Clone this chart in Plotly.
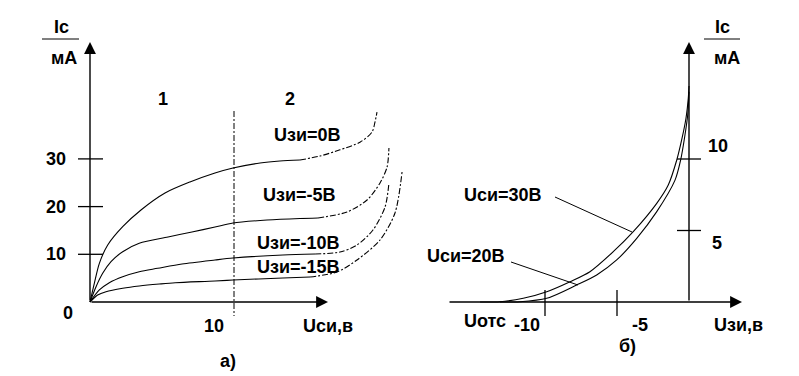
import plotly.graph_objects as go

W, H = 799, 376
FONT = "Liberation Sans, Arial, sans-serif"

# ---------------- Left panel (a): output characteristics, Ic (mA) vs Uси (V)
# Uзи = 0 В
u0_x = [0, 0.30, 0.65, 1.23, 2.27, 3.54, 5.21, 6.94, 8.68, 9.93, 11.81, 13.19, 14.58]
u0_y = [0, 3.92, 8.11, 11.95, 15.79, 19.29, 22.85, 25.16, 27.04, 28.09, 29.14, 29.56, 29.77]
u0_dx = [14.58, 15.97, 17.36, 18.75, 19.58, 19.79, 19.93]
u0_dy = [29.77, 30.6, 31.9, 33.5, 35.6, 37.7, 39.8]
# Uзи = -5 В
u5_x = [0, 0.42, 0.88, 1.46, 2.27, 3.42, 5.42, 7.08, 8.68, 9.93, 12.29, 14.58, 15.83]
u5_y = [0, 3.21, 6.02, 8.45, 10.55, 12.31, 13.63, 14.68, 15.72, 16.56, 17.19, 17.51, 17.61]
u5_dx = [15.83, 17.85, 19.24, 20.14, 20.63, 20.76]
u5_dy = [17.61, 18.87, 21.38, 24.95, 28.3, 32.3]
# Uзи = -10 В
u10_x = [0, 0.65, 1.34, 2.27, 3.42, 4.70, 6.39, 8.68, 9.93, 13.4, 15.63]
u10_y = [0, 2.52, 4.05, 5.30, 6.35, 7.06, 7.97, 8.81, 9.22, 9.85, 10.06]
u10_dx = [15.63, 17.36, 18.54, 19.65, 20.49, 20.76]
u10_dy = [10.06, 10.48, 11.95, 15.09, 19.92, 24.95]
# Uзи = -15 В
u15_x = [0, 0.53, 1.11, 2.27, 3.42, 4.81, 5.92, 8.68, 9.93, 13.4, 15.28]
u15_y = [0, 1.47, 2.16, 2.87, 3.35, 3.77, 4.05, 4.40, 4.61, 5.03, 5.24]
u15_dx = [15.28, 17.15, 18.54, 20.14, 21.18, 21.67]
u15_dy = [5.24, 6.29, 8.81, 13.0, 18.66, 27.25]

left_yticks = [10, 20, 30]
left_xticks = [10]
left_curve_labels = ["Uзи=0В", "Uзи=-5В", "Uзи=-10В", "Uзи=-15В"]

# ---------------- Right panel (б): transfer characteristics, Ic (mA) vs Uзи (V)
c30_x = [-14.51, -13.13, -11.51, -9.88, -8.26, -6.88, -5.26, -3.87, -2.24, -1.44,
         -0.85, -0.51, -0.21, -0.05, 0]
c30_y = [0, 0.02, 0.26, 0.72, 1.42, 2.12, 3.52, 4.92, 6.90, 8.18,
         9.93, 11.33, 12.85, 14.24, 15.1]
c20_x = [-13.13, -11.74, -9.88, -7.80, -6.41, -5.02, -3.63, -2.25, -0.97, -0.58,
         -0.28, -0.09, 0]
c20_y = [0, 0.02, 0.26, 1.19, 1.89, 2.94, 4.45, 6.30, 8.52, 9.93,
         11.68, 13.08, 14.7]

right_yticks = [5, 10]
right_xticks = [-10, -5]

# ---------------- pixel geometry (layout only)
L_X0, L_Y0, L_SX, L_SY = 90, 302, 14.4, 4.77      # left origin px, px per V, px per mA
R_X0, R_Y0, R_SX, R_SY = 689, 302, 14.4, 14.3

def px(xp):
    return xp / W

def py(yp):
    return 1 - yp / H

fig = go.Figure()

def line(x, y, xa, ya, dash="solid", w=1.1):
    fig.add_trace(go.Scatter(x=x, y=y, mode="lines", xaxis=xa, yaxis=ya,
                             line=dict(color="black", width=w, dash=dash,
                                       shape="spline", smoothing=0.8),
                             hoverinfo="skip", showlegend=False))

DD = "6px,2px,2px,2px"
for sx, sy, dx, dy in [(u0_x, u0_y, u0_dx, u0_dy), (u5_x, u5_y, u5_dx, u5_dy),
                       (u10_x, u10_y, u10_dx, u10_dy), (u15_x, u15_y, u15_dx, u15_dy)]:
    line(sx, sy, "x", "y")
    line(dx, dy, "x", "y", dash=DD)

line(c30_x, c30_y, "x2", "y2")
line(c20_x, c20_y, "x2", "y2")

shapes = []
annotations = []

def seg(x0, y0, x1, y1, xr, yr, w=1.3, dash="solid"):
    shapes.append(dict(type="line", x0=x0, y0=y0, x1=x1, y1=y1, xref=xr, yref=yr,
                       line=dict(color="black", width=w, dash=dash)))

def arrow(xt, yt, xs, ys, xr, yr):
    annotations.append(dict(x=xt, y=yt, ax=xs, ay=ys, xref=xr, yref=yr,
                            axref=xr, ayref=yr, text="", showarrow=True,
                            arrowhead=2, arrowsize=1.7, arrowwidth=1.4,
                            arrowcolor="black", standoff=0))

def text(t, xp, yp, size=18):
    annotations.append(dict(text="<b>" + t + "</b>", x=px(xp), y=py(yp),
                            xref="paper", yref="paper", showarrow=False,
                            xanchor="center", yanchor="middle",
                            font=dict(family=FONT, size=size, color="black")))

# left axes
arrow(0, (L_Y0 - 42) / L_SY, 0, 0, "x", "y")
arrow((328 - L_X0) / L_SX, 0, 0, 0, "x", "y")
for t in left_yticks:
    seg(-12 / L_SX, t, 13 / L_SX, t, "x", "y")
for t in left_xticks:
    seg(t, (L_Y0 - 111) / L_SY, t, (L_Y0 - 316) / L_SY, "x", "y", w=1, dash="6px,2px,2px,2px")

# right axes
arrow(0, (R_Y0 - 42) / R_SY, 0, 0, "x2", "y2")
arrow((742 - R_X0) / R_SX, 0, (448 - R_X0) / R_SX, 0, "x2", "y2")
for t in right_yticks:
    seg(-12 / R_SX, t, 12 / R_SX, t, "x2", "y2")
for t in right_xticks:
    seg(t, 12 / R_SY, t, -14 / R_SY, "x2", "y2")

# pointer lines
seg((555 - R_X0) / R_SX, (R_Y0 - 197) / R_SY, (632 - R_X0) / R_SX, (R_Y0 - 232) / R_SY, "x2", "y2", w=1)
seg((511 - R_X0) / R_SX, (R_Y0 - 262) / R_SY, (578 - R_X0) / R_SX, (R_Y0 - 285) / R_SY, "x2", "y2", w=1)

# unit fraction lines
shapes.append(dict(type="line", xref="paper", yref="paper", x0=px(42), x1=px(79),
                   y0=py(39), y1=py(39), line=dict(color="black", width=1)))
shapes.append(dict(type="line", xref="paper", yref="paper", x0=px(704), x1=px(740),
                   y0=py(39), y1=py(39), line=dict(color="black", width=1)))

# left texts
text("Ic", 61, 27)
text("мА", 64, 58)
for t in left_yticks:
    text(str(t), 56, L_Y0 - t * L_SY)
text("0", 68, 313)
for t in left_xticks:
    text(str(t), 214, 326)
text("Uси,в", 328, 326)
text("а)", 228, 361)
text("1", 163, 99)
text("2", 290, 99)
for lab, (xp, yp) in zip(left_curve_labels, [(307, 135), (299, 195), (298, 243), (298, 267)]):
    text(lab, xp, yp)

# right texts
text("Ic", 722, 27)
text("мА", 727, 58)
text(str(right_yticks[1]), 718, 146)
text(str(right_yticks[0]), 717, 243)
text(str(right_xticks[0]), 527, 325)
text(str(right_xticks[1]), 640, 325)
text("Uотс", 485, 321)
text("Uзи,в", 738, 325)
text("б)", 627, 346)
text("Uси=30В", 503, 195)
text("Uси=20В", 466, 256)

ax_common = dict(visible=False, showgrid=False, zeroline=False, fixedrange=True)
fig.update_layout(
    width=W, height=H, margin=dict(l=0, r=0, t=0, b=0),
    paper_bgcolor="white", plot_bgcolor="white", showlegend=False,
    xaxis=dict(range=[-L_X0 / L_SX, (W - L_X0) / L_SX], domain=[0, 1], **ax_common),
    yaxis=dict(range=[(L_Y0 - H) / L_SY, L_Y0 / L_SY], domain=[0, 1], **ax_common),
    xaxis2=dict(range=[-R_X0 / R_SX, (W - R_X0) / R_SX], domain=[0, 1], overlaying="x", **ax_common),
    yaxis2=dict(range=[(R_Y0 - H) / R_SY, R_Y0 / R_SY], domain=[0, 1], overlaying="y", **ax_common),
    shapes=shapes, annotations=annotations,
)

fig.write_html("out.html", config={"displayModeBar": False},
               post_script="document.body.style.margin='0';document.body.style.overflow='hidden';")
